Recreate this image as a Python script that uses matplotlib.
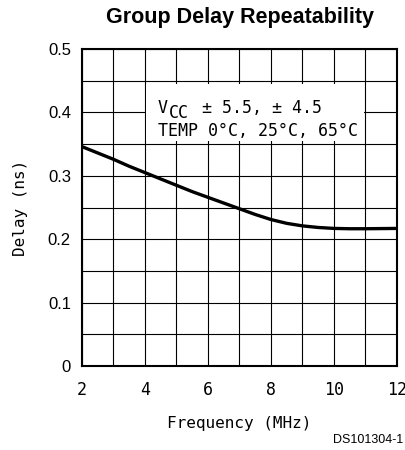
import matplotlib
matplotlib.use("Agg")
import matplotlib.pyplot as plt
from matplotlib.patches import Rectangle
from matplotlib.transforms import offset_copy

# Curve
freq = [2, 2.5, 3, 3.5, 4, 4.5, 5, 5.5, 6, 6.5, 7, 7.5, 8, 8.5, 9, 9.5, 10, 10.5, 11, 12]
delay = [0.346, 0.336, 0.326, 0.315, 0.305, 0.295, 0.285, 0.275, 0.266, 0.257,
         0.248, 0.239, 0.231, 0.225, 0.221, 0.2185, 0.217, 0.2165, 0.2165, 0.217]

x_ticks = [2, 4, 6, 8, 10, 12]
y_ticks = [0, 0.1, 0.2, 0.3, 0.4, 0.5]
y_tick_labels = ["0", "0.1", "0.2", "0.3", "0.4", "0.5"]

mono = "DejaVu Sans Mono"
sans = "Liberation Sans"

fig = plt.figure(figsize=(4.06, 4.5), dpi=100)
ax = fig.add_axes([82 / 406, 1 - 366 / 450, 315 / 406, 317 / 450])

# grid: every 1 MHz and every 0.05 ns
for xv in range(2, 13):
    ax.axvline(xv, color="black", lw=0.8, zorder=1)
for i in range(11):
    ax.axhline(i * 0.05, color="black", lw=0.8, zorder=1)

# white box for the note
ax.add_patch(Rectangle((4.04, 0.355), 6.92, 0.09, facecolor="white",
                       edgecolor="none", zorder=2))
tx = 4.41
ax.text(tx, 0.407, "V", fontsize=12, family=mono, zorder=3, va="center")
ax.text(tx, 0.407, "CC", fontsize=12, family=mono, zorder=3, va="center",
        transform=offset_copy(ax.transData, fig=fig, x=11, y=-5, units="dots"))
ax.text(tx, 0.407, "± 5.5, ± 4.5", fontsize=12, family=mono, zorder=3,
        va="center",
        transform=offset_copy(ax.transData, fig=fig, x=44, y=0, units="dots"))
ax.text(tx, 0.370, "TEMP 0°C, 25°C, 65°C", fontsize=12,
        family=mono, zorder=3, va="center")

ax.plot(freq, delay, color="black", lw=2.4, zorder=4,
        solid_capstyle="butt", solid_joinstyle="round")

ax.set_xlim(2, 12)
ax.set_ylim(0, 0.5)
ax.set_xticks(x_ticks)
ax.set_xticklabels([str(v) for v in x_ticks], family=mono, fontsize=12)
ax.set_yticks(y_ticks)
ax.set_yticklabels(y_tick_labels, family=sans, fontsize=12)
ax.tick_params(axis="x", length=0, pad=11)
ax.tick_params(axis="y", length=0, pad=8)
for s in ax.spines.values():
    s.set_linewidth(1.5)

ax.set_xlabel("Frequency (MHz)", family=mono, fontsize=11.5, labelpad=12)
ax.set_ylabel("Delay (ns)", family=mono, fontsize=11.5, labelpad=14)

fig.text(240 / 406, 1 - 18 / 450, "Group Delay Repeatability", ha="center",
         va="center", fontsize=15.5, fontweight="bold", family=sans)
fig.text(403 / 406, 1 - 440 / 450, "DS101304-1", ha="right", va="center",
         fontsize=9, family=sans)

fig.savefig("out.png", dpi=100)
